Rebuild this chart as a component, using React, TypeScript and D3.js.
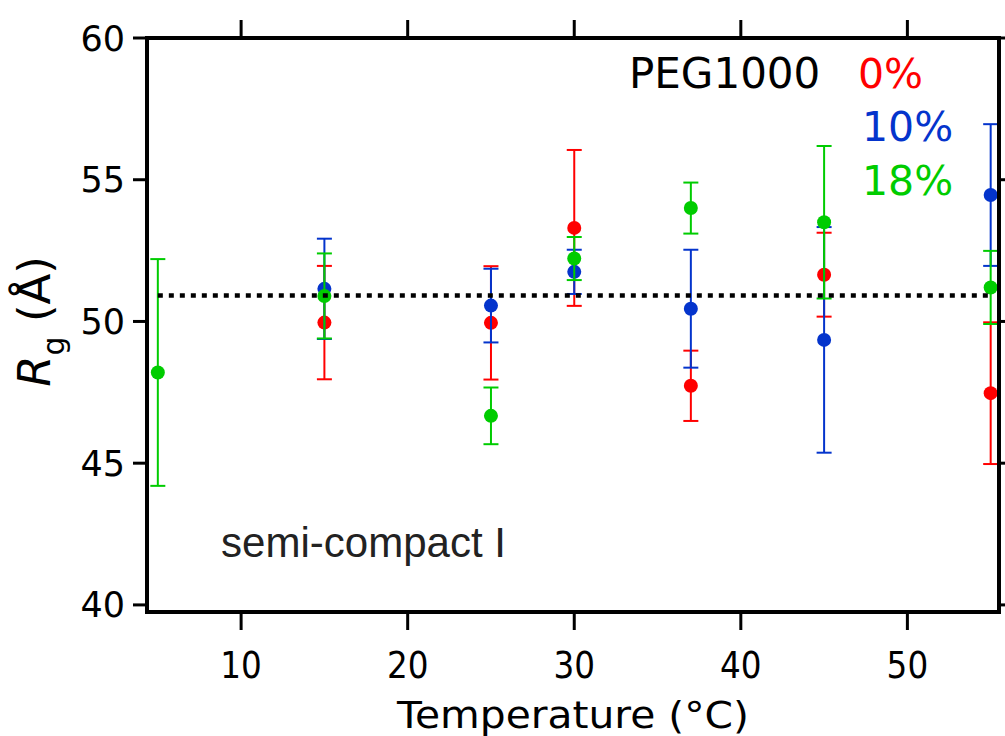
import React from "react";
import * as d3 from "d3";

const temps = [5, 15, 25, 30, 37, 45, 55];
const rg0: (number | null)[] = [null, 49.96, 49.95, 53.3, 47.73, 51.65, 47.47];
const err0: (number | null)[] = [null, 2.0, 2.0, 2.75, 1.24, 1.48, 2.5];
const rg10: (number | null)[] = [null, 51.15, 50.56, 51.75, 50.45, 49.35, 54.46];
const err10: (number | null)[] = [null, 1.77, 1.3, 0.78, 2.08, 3.98, 2.5];
const rg18: (number | null)[] = [48.2, 50.9, 46.67, 52.22, 54.0, 53.5, 51.2];
const err18: (number | null)[] = [4.0, 1.5, 1.0, 0.76, 0.9, 2.69, 1.29];
const seriesNames = ["0%", "10%", "18%"];
const seriesColors = ["#ff0000", "#0434cc", "#00cc00"];
const xTicks = [10, 20, 30, 40, 50];
const yTicks = [40, 45, 50, 55, 60];
const refLine = 50.92;
const refRange = [5, 55];

const W = 1005;
const H = 736;
const L = 147, R = 999, T = 38, B = 612;

export default function App() {
  const x = d3.scaleLinear().domain([4.35, 55.5]).range([L, R]);
  const y = d3.scaleLinear().domain([39.75, 60]).range([B, T]);

  const series = [
    { vals: rg0, errs: err0 },
    { vals: rg10, errs: err10 },
    { vals: rg18, errs: err18 },
  ];

  const capHalf = 7.5;

  return (
    <svg
      width={W}
      height={H}
      style={{ position: "absolute", left: 0, top: 0, background: "#fff" }}
      fontFamily="DejaVu Sans"
    >
      <rect x={0} y={0} width={W} height={H} fill="#fff" />

      {series.map((s, si) => (
        <g key={si} stroke={seriesColors[si]} fill={seriesColors[si]}>
          {temps.map((t, i) => {
            const v = s.vals[i];
            const e = s.errs[i];
            if (v == null || e == null) return null;
            const cx = x(t);
            const yt = y(v + e);
            const yb = y(v - e);
            return (
              <g key={i}>
                <line x1={cx} x2={cx} y1={yt} y2={yb} strokeWidth={2} />
                <line x1={cx - capHalf} x2={cx + capHalf} y1={yt} y2={yt} strokeWidth={2} />
                <line x1={cx - capHalf} x2={cx + capHalf} y1={yb} y2={yb} strokeWidth={2} />
                <circle cx={cx} cy={y(v)} r={7} stroke="none" />
              </g>
            );
          })}
        </g>
      ))}

      <line
        x1={x(refRange[0])}
        x2={x(refRange[1])}
        y1={y(refLine)}
        y2={y(refLine)}
        stroke="#000"
        strokeWidth={4.5}
        strokeDasharray="5 6"
      />

      <rect x={L} y={T} width={R - L} height={B - T} fill="none" stroke="#000" strokeWidth={4} />

      {yTicks.map((v) => (
        <g key={"y" + v} stroke="#000" strokeWidth={3}>
          <line x1={L - 14} x2={L} y1={y(v)} y2={y(v)} />
          <line x1={R} x2={R + 14} y1={y(v)} y2={y(v)} />
        </g>
      ))}
      {xTicks.map((v) => (
        <g key={"x" + v} stroke="#000" strokeWidth={3}>
          <line x1={x(v)} x2={x(v)} y1={T - 18} y2={T} />
          <line x1={x(v)} x2={x(v)} y1={B} y2={B + 18} />
        </g>
      ))}

      {yTicks.map((v) => (
        <text key={"yl" + v} x={125} y={y(v) + 12.5} fontSize={35} textAnchor="end" fill="#000">
          {v}
        </text>
      ))}

      {xTicks.map((v) => (
        <text
          key={"xl" + v}
          transform={`translate(${x(v)},678) scale(0.86,1)`}
          fontSize={38}
          textAnchor="middle"
          fill="#000"
        >
          {v}
        </text>
      ))}

      <text
        x={(L + R) / 2}
        y={728}
        fontSize={38}
        textAnchor="middle"
        textLength={352}
        lengthAdjust="spacingAndGlyphs"
        fill="#000"
      >
        Temperature (°C)
      </text>

      <text transform={`translate(50,${y(50)}) rotate(-90)`} fontSize={45} textAnchor="middle" fill="#000">
        <tspan fontStyle="italic">R</tspan>
        <tspan fontSize={30} dy={14}>g</tspan>
        <tspan dy={-14}> (Å)</tspan>
      </text>

      <text x={629} y={88} fontSize={42} fill="#000">PEG1000</text>
      <text x={858} y={88} fontSize={41} fill={seriesColors[0]}>{seriesNames[0]}</text>
      <text x={862} y={141} fontSize={41} fill={seriesColors[1]}>{seriesNames[1]}</text>
      <text x={862} y={195} fontSize={41} fill={seriesColors[2]}>{seriesNames[2]}</text>

      <text
        x={221}
        y={557}
        fontSize={42}
        fontFamily="Liberation Sans"
        fill="#222"
        textLength={285}
        lengthAdjust="spacingAndGlyphs"
      >
        semi-compact I
      </text>
    </svg>
  );
}
